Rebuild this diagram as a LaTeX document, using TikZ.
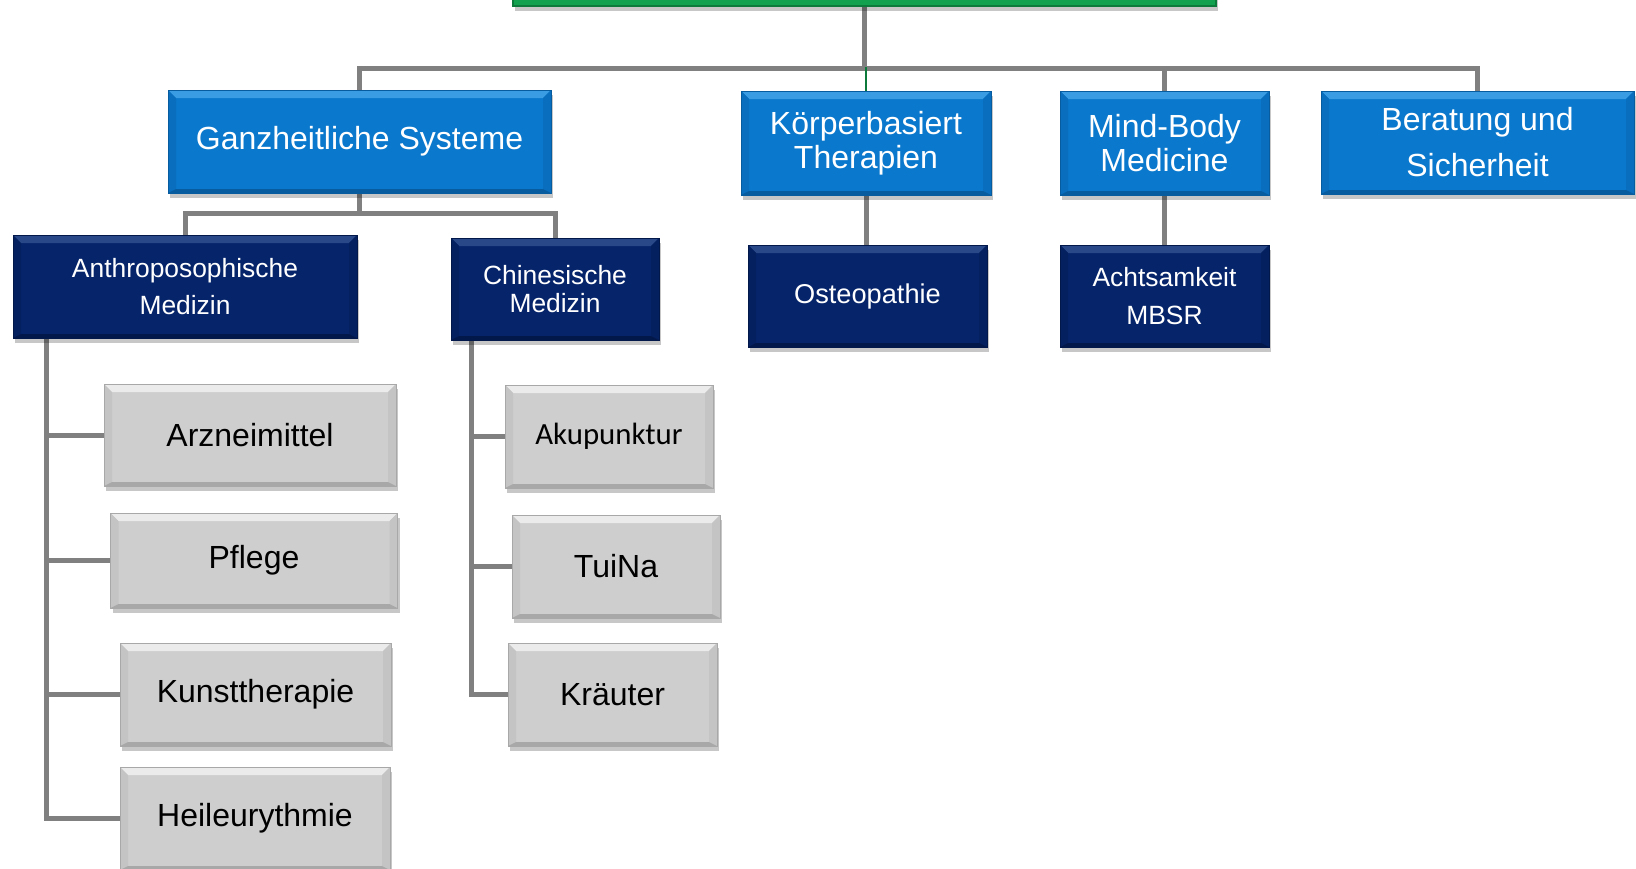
\documentclass[tikz,border=0pt]{standalone}
\usepackage{fontspec}
\setmainfont{Liberation Sans}
\newfontfamily\calib{Carlito}
\usetikzlibrary{shadows,calc,backgrounds}
\definecolor{blueM}{HTML}{0A78CC}
\definecolor{blueT}{HTML}{3A9CE2}
\definecolor{blueS}{HTML}{096EBD}
\definecolor{blueB}{HTML}{075C9F}
\definecolor{navyM}{HTML}{06246A}
\definecolor{navyT}{HTML}{284888}
\definecolor{navyS}{HTML}{05205F}
\definecolor{navyB}{HTML}{03184A}
\definecolor{grayM}{HTML}{CECECE}
\definecolor{grayT}{HTML}{EBEBEB}
\definecolor{grayS}{HTML}{C4C4C4}
\definecolor{grayB}{HTML}{A8A8A8}
\definecolor{greenM}{HTML}{12A24F}
\definecolor{greenD}{HTML}{0B7A3A}
\definecolor{lineG}{HTML}{808080}
\tikzset{
  sz/.style 2 args={minimum width=#1*0.5pt, minimum height=#2*0.5pt},
  bev/.style n args={3}{path picture={
    \fill[#1] (path picture bounding box.north west) -- (path picture bounding box.north east) -- ([shift={(-4pt,-4pt)}]path picture bounding box.north east) -- ([shift={(4pt,-4pt)}]path picture bounding box.north west) -- cycle;
    \fill[#2] (path picture bounding box.north west) -- (path picture bounding box.south west) -- ([shift={(4pt,2pt)}]path picture bounding box.south west) -- ([shift={(4pt,-4pt)}]path picture bounding box.north west) -- cycle;
    \fill[#2] (path picture bounding box.north east) -- (path picture bounding box.south east) -- ([shift={(-4pt,2pt)}]path picture bounding box.south east) -- ([shift={(-4pt,-4pt)}]path picture bounding box.north east) -- cycle;
    \fill[#3] (path picture bounding box.south west) -- (path picture bounding box.south east) -- ([shift={(-4pt,2pt)}]path picture bounding box.south east) -- ([shift={(4pt,2pt)}]path picture bounding box.south west) -- cycle;
  }},
  basebox/.style={rectangle, inner sep=0pt, outer sep=0pt, align=center,
    drop shadow={shadow xshift=1pt, shadow yshift=-2.5pt, opacity=0.22, fill=black}},
  lvA/.style={basebox, fill=blueM, draw=blueB, line width=0.4pt, bev={blueT}{blueS}{blueB}, text=white,
    font=\fontsize{16}{17.25}\selectfont},
  lvB/.style={basebox, fill=navyM, draw=navyB, line width=0.4pt, bev={navyT}{navyS}{navyB}, text=white,
    font=\fontsize{13.2}{18.8}\selectfont},
  lvC/.style={basebox, fill=grayM, draw=grayB, line width=0.4pt, bev={grayT}{grayS}{grayB}, text=black,
    font=\fontsize{16}{18}\selectfont},
  conn/.style={draw=lineG, line width=2.5pt},
  thinc/.style={draw=greenD, line width=0.6pt}
}
\begin{document}
\begin{tikzpicture}[x=0.5pt,y=-0.5pt]
\useasboundingbox (0,0) rectangle (1636,868);
% root bar
\node[basebox, fill=greenM, draw=greenD, line width=0.8pt, sz={703}{30}] (root) at (864.5,-9) {};
% level 1
\node[lvA, sz={383}{103}] (ganz) at (359.5,141.5) {Ganzheitliche Systeme};
\node[lvA, sz={250}{104}] (koerp) at (866,143) {Körperbasiert\\Therapien};
\node[lvA, sz={209}{104}] (mind) at (1164.5,143) {Mind-Body\\Medicine};
\node[lvA, sz={313}{103}, font=\fontsize{16}{23}\selectfont] (berat) at (1477.5,142.5) {Beratung und\\Sicherheit};
% level 2
\node[lvB, sz={344}{103}] (anthro) at (185,286.5) {Anthroposophische\\Medizin};
\node[lvB, sz={208}{102}, font=\fontsize{13.2}{14}\selectfont] (chin) at (555,289) {Chinesische\\Medizin};
\node[lvB, sz={239}{102}, font=\fontsize{13.6}{16}\selectfont] (osteo) at (867.5,296) {Osteopathie};
\node[lvB, sz={209}{102}, font=\fontsize{13.2}{19.3}\selectfont] (acht) at (1164.5,296) {Achtsamkeit\\MBSR};
% level 3 left
\node[lvC, sz={292}{102}] (arz) at (250,435) {Arzneimittel};
\node[lvC, sz={287}{95}] (pfl) at (254,560.5) {Pflege};
\node[lvC, sz={271}{103}] (kunst) at (255.5,694.5) {Kunsttherapie};
\node[lvC, sz={270}{103}] (heil) at (255,818.5) {Heileurythmie};
% level 3 right
\node[lvC, sz={208}{103}, font=\calib\fontsize{15.4}{18}\selectfont] (aku) at (609,436.5) {Akupunktur};
\node[lvC, sz={208}{103}] (tui) at (616,566.5) {TuiNa};
\node[lvC, sz={209}{103}] (kraut) at (612.5,694.5) {Kräuter};
% connectors
\begin{pgfonlayer}{background}
\draw[conn] (root.south) -- ++(0,62) -| (ganz.north);
\draw[conn] (root.south) -- ++(0,62) -| (mind.north);
\draw[conn] (root.south) -- ++(0,62) -| (berat.north);
\draw[thinc] ($(root.south)+(0,62)$) -| (koerp.north);
\draw[conn] (ganz.south) -- ++(0,20) -| (anthro.north);
\draw[conn] (ganz.south) -- ++(0,20) -| (chin.north);
\draw[conn] (koerp.south) -- (koerp.south |- osteo.north);
\draw[conn] (mind.south) -- (acht.north);
\draw[conn] ($(anthro.south west)+(33.5,0)$) |- (arz.west);
\draw[conn] ($(anthro.south west)+(33.5,0)$) |- (pfl.west);
\draw[conn] ($(anthro.south west)+(33.5,0)$) |- (kunst.west);
\draw[conn] ($(anthro.south west)+(33.5,0)$) |- (heil.west);
\draw[conn] ($(chin.south west)+(20.6,0)$) |- (aku.west);
\draw[conn] ($(chin.south west)+(20.6,0)$) |- (tui.west);
\draw[conn] ($(chin.south west)+(20.6,0)$) |- (kraut.west);
\end{pgfonlayer}
\end{tikzpicture}
\end{document}
